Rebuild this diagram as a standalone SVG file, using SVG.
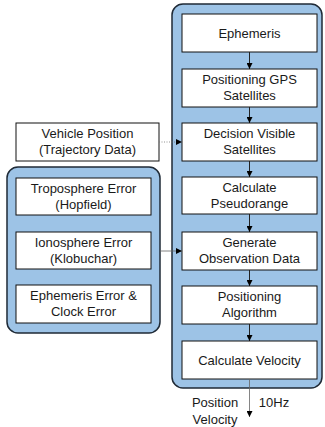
<svg xmlns="http://www.w3.org/2000/svg" width="325" height="427" viewBox="0 0 325 427">
  <style>
    .panel { fill: #9dc3e6; stroke: #1f2a36; stroke-width: 1.5; }
    .box { fill: #ffffff; stroke: #111111; stroke-width: 1; }
    text { font-family: "Liberation Sans", Arial, sans-serif; font-size: 13px; fill: #1a1a1a; text-anchor: middle; }
    .link { stroke: #222222; stroke-width: 1; fill: none; }
    .dotted { stroke: #777777; stroke-width: 0.8; stroke-dasharray: 1 1.5; fill: none; }
    .thin { stroke: #666666; stroke-width: 0.8; fill: none; }
  </style>
  <defs>
    <marker id="head" viewBox="0 0 10 10" refX="10" refY="5" markerWidth="6" markerHeight="6" orient="auto" markerUnits="userSpaceOnUse">
      <path d="M0,0 L10,5 L0,10 z" fill="#000000"/>
    </marker>
  </defs>

  <!-- processing chain panel -->
  <rect class="panel" x="172" y="4" width="150" height="384" rx="11"/>
  <!-- error source panel -->
  <rect class="panel" x="7" y="167" width="153" height="166" rx="11"/>

  <g id="ephemeris">
    <rect class="box" x="182" y="14" width="135" height="38"/>
    <text x="249.5" y="37.5">Ephemeris</text>
  </g>
  <g id="positioning-gps">
    <rect class="box" x="182" y="69" width="135" height="38"/>
    <text x="249.5" y="84">Positioning GPS</text>
    <text x="249.5" y="100">Satellites</text>
  </g>
  <g id="decision-visible">
    <rect class="box" x="182" y="123" width="135" height="38"/>
    <text x="249.5" y="138">Decision Visible</text>
    <text x="249.5" y="154">Satellites</text>
  </g>
  <g id="calculate-pseudorange">
    <rect class="box" x="182" y="177" width="135" height="37"/>
    <text x="249.5" y="192">Calculate</text>
    <text x="249.5" y="208">Pseudorange</text>
  </g>
  <g id="generate-observation">
    <rect class="box" x="182" y="232" width="135" height="38"/>
    <text x="249.5" y="247">Generate</text>
    <text x="249.5" y="263">Observation Data</text>
  </g>
  <g id="positioning-algorithm">
    <rect class="box" x="182" y="286" width="135" height="38"/>
    <text x="249.5" y="301">Positioning</text>
    <text x="249.5" y="317">Algorithm</text>
  </g>
  <g id="calculate-velocity">
    <rect class="box" x="182" y="341" width="135" height="38"/>
    <text x="249.5" y="364.5">Calculate Velocity</text>
  </g>

  <g id="vehicle-position">
    <rect class="box" x="16" y="123" width="143" height="38"/>
    <text x="87.5" y="138">Vehicle Position</text>
    <text x="87.5" y="154">(Trajectory Data)</text>
  </g>
  <g id="troposphere-error">
    <rect class="box" x="16" y="178" width="135" height="37"/>
    <text x="83.5" y="193">Troposphere Error</text>
    <text x="83.5" y="209">(Hopfield)</text>
  </g>
  <g id="ionosphere-error">
    <rect class="box" x="16" y="232" width="135" height="37"/>
    <text x="83.5" y="247">Ionosphere Error</text>
    <text x="83.5" y="263">(Klobuchar)</text>
  </g>
  <g id="ephemeris-clock-error">
    <rect class="box" x="16" y="285" width="135" height="38"/>
    <text x="83.5" y="300">Ephemeris Error &amp;</text>
    <text x="83.5" y="316">Clock Error</text>
  </g>

  <g id="output-labels">
    <text x="215" y="407">Position</text>
    <text x="215" y="424">Velocity</text>
    <text x="274" y="407">10Hz</text>
  </g>

  <g id="connectors">
    <line class="link" x1="249.5" y1="52" x2="249.5" y2="69" marker-end="url(#head)"/>
    <line class="link" x1="249.5" y1="107" x2="249.5" y2="123" marker-end="url(#head)"/>
    <line class="link" x1="249.5" y1="161" x2="249.5" y2="177" marker-end="url(#head)"/>
    <line class="link" x1="249.5" y1="214" x2="249.5" y2="232" marker-end="url(#head)"/>
    <line class="link" x1="249.5" y1="270" x2="249.5" y2="286" marker-end="url(#head)"/>
    <line class="link" x1="249.5" y1="324" x2="249.5" y2="341" marker-end="url(#head)"/>
    <line class="dotted" x1="159" y1="142" x2="182" y2="142" marker-end="url(#head)"/>
    <line class="thin" x1="160" y1="251" x2="182" y2="251" marker-end="url(#head)"/>
    <line class="thin" x1="249.5" y1="379" x2="249.5" y2="417" marker-end="url(#head)"/>
  </g>
</svg>
